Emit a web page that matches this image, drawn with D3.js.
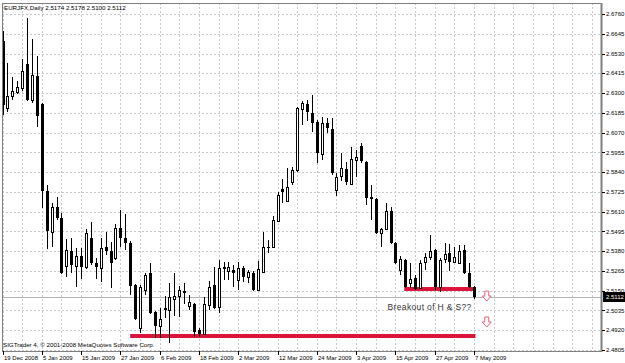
<!DOCTYPE html>
<html><head><meta charset="utf-8">
<script src="https://cdn.jsdelivr.net/npm/d3@7/dist/d3.min.js"></script>
<style>
html,body{margin:0;padding:0;background:#fff;}
svg{display:block;}
text{font-family:"Liberation Sans",Arial,sans-serif;}
</style></head>
<body><svg id="c" width="625" height="363"></svg>
<script>
// ---- data ----
const symbolTitle = "EURJFX,Daily";
const lastOHLC = ["2.5174","2.5178","2.5100","2.5112"];
const copyright = "SIGTrader 4, \u00a9 2001-2008 MetaQuotes Software Corp.";
const dateLabels = ["19 Dec 2008","5 Jan 2009","15 Jan 2009","27 Jan 2009","6 Feb 2009","18 Feb 2009","2 Mar 2009","12 Mar 2009","24 Mar 2009","3 Apr 2009","15 Apr 2009","27 Apr 2009","7 May 2009"];
const dateLabelBars = [0,8,16,24,32,40,48,56,64,72,80,88,96];
const priceTicks = [2.4805,2.4920,2.5035,2.5150,2.5265,2.5380,2.5495,2.5610,2.5725,2.5840,2.5955,2.6070,2.6185,2.6300,2.6415,2.6530,2.6645,2.6760];
const lastPrice = 2.5112;

const opens = [2.6603,2.6213,2.6283,2.6308,2.6329,2.6469,2.6260,2.6399,2.6236,2.5730,
 2.5491,2.5637,2.5573,2.5293,2.5381,2.5293,2.5352,2.5288,2.5456,2.5311,
 2.5282,2.5404,2.5381,2.5340,2.5515,2.5456,2.5427,2.5183,2.4933,2.5154,
 2.5253,2.5026,2.4944,2.5049,2.5037,2.5101,2.5119,2.5148,2.5061,2.5072,
 2.4921,2.4898,2.5066,2.5183,2.5055,2.5288,2.5264,2.5270,2.5212,2.5282,
 2.5229,2.5253,2.5154,2.5258,2.5404,2.5404,2.5555,2.5742,2.5672,2.5782,
 2.5852,2.6207,2.6236,2.6184,2.6131,2.5945,2.6126,2.6091,2.5736,2.5817,
 2.5858,2.5771,2.5910,2.5992,2.5899,2.5695,2.5683,2.5485,2.5509,2.5614,
 2.5427,2.5270,2.5328,2.5194,2.5224,2.5165,2.5317,2.5346,2.5387,2.5171,
 2.5334,2.5369,2.5317,2.5311,2.5387,2.5253,2.5174];
const highs = [2.6661,2.6475,2.6393,2.6372,2.6498,2.6737,2.6615,2.6516,2.6242,2.5765,
 2.5660,2.5695,2.5602,2.5451,2.5456,2.5398,2.5398,2.5509,2.5549,2.5340,
 2.5456,2.5491,2.5433,2.5538,2.5619,2.5596,2.5439,2.5189,2.5183,2.5253,
 2.5311,2.5032,2.5049,2.5119,2.5194,2.5253,2.5177,2.5194,2.5125,2.5078,
 2.4933,2.5113,2.5206,2.5288,2.5328,2.5317,2.5317,2.5299,2.5317,2.5293,
 2.5270,2.5264,2.5323,2.5491,2.5445,2.5584,2.5724,2.5800,2.5864,2.5870,
 2.6219,2.6254,2.6260,2.6289,2.6143,2.6161,2.6155,2.6155,2.5835,2.5951,
 2.5899,2.5986,2.5969,2.6009,2.5904,2.5765,2.5689,2.5515,2.5660,2.5637,
 2.5433,2.5352,2.5334,2.5311,2.5241,2.5328,2.5369,2.5474,2.5392,2.5340,
 2.5427,2.5421,2.5404,2.5416,2.5416,2.5311,2.5178];
const lows = [2.6172,2.6190,2.6260,2.6294,2.6312,2.6254,2.6242,2.6102,2.5631,2.5392,
 2.5404,2.5561,2.5247,2.5229,2.5253,2.5171,2.5218,2.5276,2.5299,2.5218,
 2.5200,2.5357,2.5165,2.5328,2.5404,2.5387,2.5125,2.4979,2.4903,2.5125,
 2.5014,2.4874,2.4874,2.4991,2.4845,2.5002,2.4997,2.5072,2.5037,2.4880,
 2.4880,2.4892,2.5037,2.5043,2.5020,2.5212,2.5212,2.5171,2.5154,2.5200,
 2.5194,2.5148,2.5148,2.5253,2.5369,2.5398,2.5549,2.5660,2.5666,2.5765,
 2.5840,2.6114,2.6137,2.6073,2.5893,2.5910,2.6067,2.5823,2.5701,2.5788,
 2.5765,2.5765,2.5811,2.5893,2.5648,2.5561,2.5480,2.5404,2.5503,2.5421,
 2.5305,2.5241,2.5165,2.5165,2.5154,2.5160,2.5270,2.5328,2.5154,2.5142,
 2.5311,2.5264,2.5311,2.5305,2.5247,2.5165,2.5100];
const closes = [2.6230,2.6283,2.6312,2.6337,2.6428,2.6260,2.6405,2.6166,2.5730,2.5497,
 2.5637,2.5573,2.5253,2.5387,2.5299,2.5352,2.5288,2.5485,2.5311,2.5288,
 2.5398,2.5381,2.5311,2.5515,2.5456,2.5427,2.5177,2.4985,2.5171,2.5241,
 2.5020,2.4944,2.4985,2.5037,2.5113,2.5119,2.5154,2.5136,2.5084,2.4909,
 2.4898,2.5072,2.5171,2.5049,2.5282,2.5276,2.5288,2.5253,2.5282,2.5229,
 2.5258,2.5154,2.5276,2.5404,2.5398,2.5561,2.5707,2.5724,2.5753,2.5852,
 2.6213,2.6242,2.6190,2.6126,2.5951,2.6126,2.6097,2.5835,2.5811,2.5864,
 2.5782,2.5916,2.5928,2.5904,2.5689,2.5683,2.5485,2.5509,2.5614,2.5427,
 2.5311,2.5334,2.5171,2.5218,2.5160,2.5311,2.5346,2.5381,2.5171,2.5328,
 2.5363,2.5317,2.5346,2.5381,2.5253,2.5171,2.5112];

// drawn objects (levels in price, spans in bar index)
const necklinePrice = 2.5160, necklineFrom = 81.8, necklineTo = 96.3;
const supportPrice = 2.4886, supportFrom = 26, supportTo = 96.3;
const arrowBar = 98.6;
const arrowTops = [2.5148, 2.4997];
const annotation = "Breakout of H & S??";
const annotationBar = 78.4, annotationPrice = 2.5040;

// ---- layout ----
const svg = d3.select("#c");
const L = 2, R = 601, T = 3, B = 351;
const x = d3.scaleLinear().domain([0, 96]).range([2.5, 474]);
const y = d3.scaleLinear().domain([2.4805, 2.6760]).range([350, 14]);
const barStep = x(1) - x(0);

svg.append("rect").attr("width",625).attr("height",363).attr("fill","#fff");

// grid
const gridColor = "#c8c8c8";
const vgrid = d3.range(0, 122, 4);
svg.append("g").selectAll("line").data(vgrid).join("line")
  .attr("x1", d => Math.round(x(d)) + 0.5).attr("x2", d => Math.round(x(d)) + 0.5)
  .attr("y1", T).attr("y2", B)
  .attr("stroke", gridColor).attr("stroke-dasharray", "2,2")
  .style("display", d => x(d) > R - 2 ? "none" : null);
svg.append("g").selectAll("line").data(priceTicks).join("line")
  .attr("x1", L).attr("x2", R)
  .attr("y1", d => Math.round(y(d)) + 0.5).attr("y2", d => Math.round(y(d)) + 0.5)
  .attr("stroke", gridColor).attr("stroke-dasharray", "2,2");

// current price line
svg.append("line").attr("x1", L).attr("x2", R)
  .attr("y1", Math.round(y(lastPrice)) + 0.5).attr("y2", Math.round(y(lastPrice)) + 0.5)
  .attr("stroke", "#b4b4b4");

// red lines
const red = "#dc143c";
[[necklinePrice, necklineFrom, necklineTo],[supportPrice, supportFrom, supportTo]].forEach(([p,a,b]) => {
  svg.append("line").attr("x1", x(a)).attr("x2", x(b))
    .attr("y1", y(p)).attr("y2", y(p))
    .attr("stroke", red).attr("stroke-width", 4);
});

// candles
const data = opens.map((o,i) => ({i, o, h: highs[i], l: lows[i], c: closes[i]}));
const g = svg.append("g");
g.selectAll("line.wick").data(data).join("line").attr("class","wick")
  .attr("x1", d => Math.round(x(d.i)) + 0.5).attr("x2", d => Math.round(x(d.i)) + 0.5)
  .attr("y1", d => Math.round(y(d.h))).attr("y2", d => Math.round(y(d.l)))
  .attr("stroke", "#000").attr("stroke-width", 1);
g.selectAll("rect.body").data(data).join("rect").attr("class","body")
  .attr("x", d => d.c >= d.o ? Math.round(x(d.i)) - 1 + 0.5 : Math.round(x(d.i)) - 1)
  .attr("width", d => d.c >= d.o ? 2 : 3)
  .attr("y", d => { const t = Math.round(y(Math.max(d.o,d.c))); return d.c >= d.o ? t + 0.5 : t; })
  .attr("height", d => { const hgt = Math.abs(Math.round(y(d.o)) - Math.round(y(d.c))); return d.c >= d.o ? Math.max(hgt,1) : Math.max(hgt,1); })
  .attr("fill", d => d.c >= d.o ? "#fff" : "#000")
  .attr("stroke", d => d.c >= d.o ? "#000" : "none")
  .attr("stroke-width", 1);

// arrows
const arrowColor = "#e8607a";
arrowTops.forEach(p => {
  const cx = x(arrowBar), ty = y(p);
  const path = `M${cx-2},${ty} L${cx+2},${ty} L${cx+2},${ty+5} L${cx+4.5},${ty+5} L${cx},${ty+10} L${cx-4.5},${ty+5} L${cx-2},${ty+5} Z`;
  svg.append("path").attr("d", path).attr("fill", "#fff").attr("stroke", arrowColor).attr("stroke-width", 1);
});

// annotation
svg.append("text").attr("x", x(annotationBar)).attr("y", y(annotationPrice))
  .attr("font-size", 8.5).attr("fill", "#333").attr("letter-spacing", 0.35).text(annotation);

// frame
svg.append("line").attr("x1", L+0.5).attr("x2", L+0.5).attr("y1", T).attr("y2", B).attr("stroke", "#808080");
svg.append("line").attr("x1", L).attr("x2", R).attr("y1", T+0.5).attr("y2", T+0.5).attr("stroke", "#808080");
svg.append("line").attr("x1", L).attr("x2", R+1).attr("y1", B+0.5).attr("y2", B+0.5).attr("stroke", "#808080");
svg.append("line").attr("x1", R+0.5).attr("x2", R+0.5).attr("y1", T).attr("y2", B+1).attr("stroke", "#808080").attr("stroke-width", 2);

// price axis
const pa = svg.append("g");
pa.selectAll("line").data(priceTicks).join("line")
  .attr("x1", R+1).attr("x2", R+4)
  .attr("y1", d => Math.round(y(d)) + 0.5).attr("y2", d => Math.round(y(d)) + 0.5)
  .attr("stroke", "#000");
pa.selectAll("text").data(priceTicks).join("text")
  .attr("x", R+5).attr("y", d => y(d) + 2.2)
  .attr("font-size", 6).attr("fill", "#000").text(d => d3.format(".4f")(d));
const ly = Math.round(y(lastPrice));
svg.append("rect").attr("x", R+2).attr("y", ly-5).attr("width", 22).attr("height", 10).attr("fill", "#000");
svg.append("text").attr("x", R+5).attr("y", ly+2.2).attr("font-size", 6).attr("fill", "#fff").text(d3.format(".4f")(lastPrice));

// date axis
const da = svg.append("g");
da.selectAll("line").data(dateLabelBars).join("line")
  .attr("x1", d => Math.round(x(d)) + 0.5).attr("x2", d => Math.round(x(d)) + 0.5)
  .attr("y1", B).attr("y2", B+4).attr("stroke", "#000");
da.selectAll("text").data(dateLabels).join("text")
  .attr("x", (d,i) => Math.round(x(dateLabelBars[i])) + 1)
  .attr("y", 360).attr("font-size", 6).attr("fill", "#000").text(d => d);

// header and footer
svg.append("text").attr("x", 4).attr("y", 10).attr("font-size", 6.2).attr("fill", "#000")
  .text(symbolTitle + "  " + lastOHLC.join(" "));
svg.append("text").attr("x", 3).attr("y", 347).attr("font-size", 6.2).attr("fill", "#000").text(copyright);
</script></body></html>
